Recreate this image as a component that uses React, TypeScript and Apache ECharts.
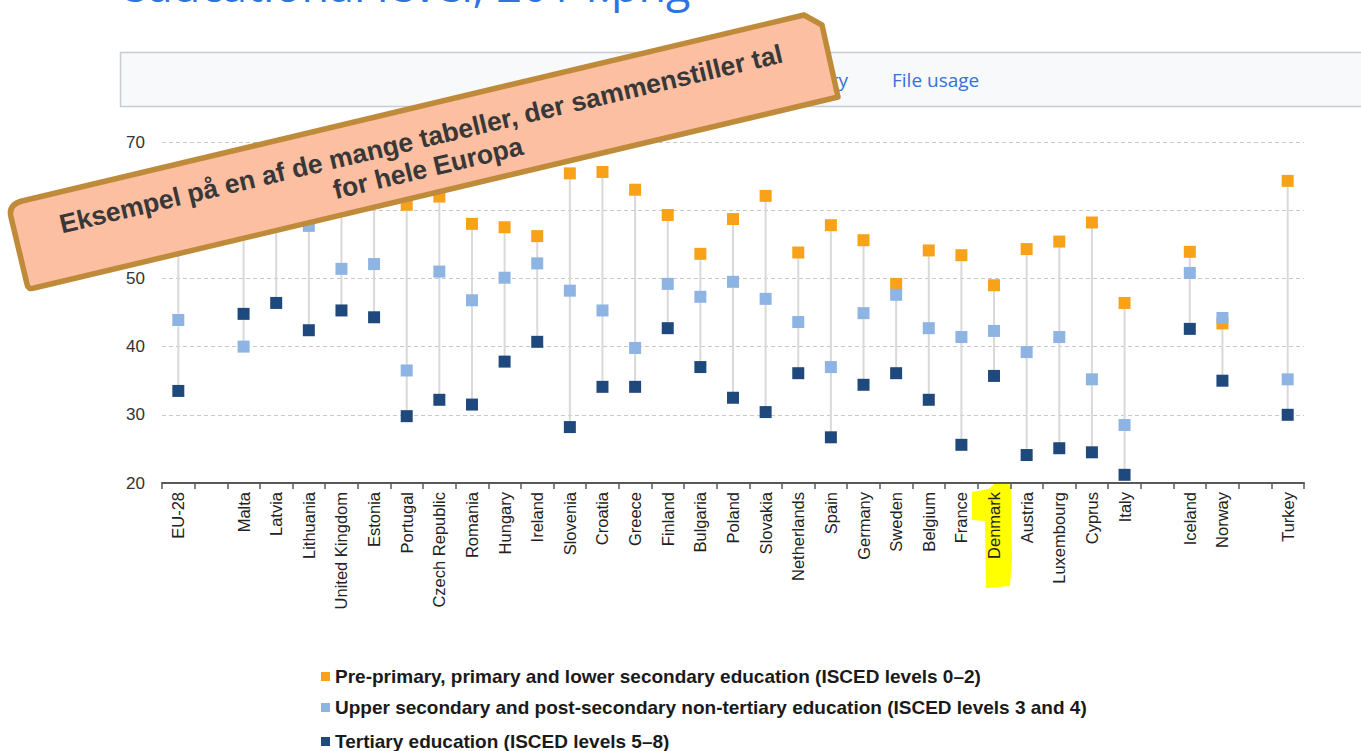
import React, { useEffect, useRef } from "react";
import * as echarts from "echarts";

const categories = [
  "EU-28", " ", "Malta", "Latvia", "Lithuania", "United Kingdom", "Estonia", "Portugal",
  "Czech Republic", "Romania", "Hungary", "Ireland", "Slovenia", "Croatia", "Greece",
  "Finland", "Bulgaria", "Poland", "Slovakia", "Netherlands", "Spain", "Germany", "Sweden",
  "Belgium", "France", "Denmark", "Austria", "Luxembourg", "Cyprus", "Italy", "  ",
  "Iceland", "Norway", "   ", "Turkey",
];

const lowerSecondary = [
  62, null, 60, 66, 65, 62, 63, 60.8, 62.0, 58.0, 57.5, 56.2, 65.4, 65.6, 63.0, 59.3, 53.6,
  58.7, 62.1, 53.8, 57.8, 55.6, 49.2, 54.1, 53.4, 49.0, 54.3, 55.4, 58.2, 46.4, null, 53.9,
  43.4, null, 64.3,
];
const upperSecondary = [
  43.9, null, 40.0, 60, 57.7, 51.4, 52.1, 36.5, 51.0, 46.8, 50.1, 52.2, 48.2, 45.3, 39.8,
  49.2, 47.3, 49.5, 47.0, 43.6, 37.0, 44.9, 47.6, 42.7, 41.4, 42.3, 39.2, 41.4, 35.2, 28.5,
  null, 50.8, 44.2, null, 35.2,
];
const tertiary = [
  33.5, null, 44.8, 46.4, 42.4, 45.3, 44.3, 29.8, 32.2, 31.5, 37.8, 40.7, 28.2, 34.1, 34.1,
  42.7, 37.0, 32.5, 30.4, 36.1, 26.7, 34.4, 36.1, 32.2, 25.6, 35.7, 24.1, 25.1, 24.5, 21.2,
  null, 42.6, 35.0, null, 30.0,
];

const seriesNames = [
  "Pre-primary, primary and lower secondary education (ISCED levels 0\u20132)",
  "Upper secondary and post-secondary non-tertiary education (ISCED levels 3 and 4)",
  "Tertiary education (ISCED levels 5\u20138)",
];
const seriesColors = ["#f8a21a", "#8db4e2", "#1f497d"];
const legendTops = [662, 693, 727];

const titleText = "educational level, 2014.png";
const tabText = "File usage";
const tabTextHidden = "File history";
const calloutLine1 = "Eksempel p\u00e5 en af de mange tabeller, der sammenstiller tal";
const calloutLine2 = "for hele Europa";

const calloutPath =
  "M 22 201 L 804 15 L 822 25 L 838 97 L 34 288 Q 28 290 27 284 L 11 217 Q 8 205 22 201 Z";

export default function App() {
  const ref = useRef<HTMLDivElement>(null);
  useEffect(() => {
    if (!ref.current) return;
    try {
      echarts.graphic.registerShape("callout", echarts.graphic.extendPath(calloutPath, {}) as any);
    } catch (e) {}
    const chart = echarts.init(ref.current, null, { renderer: "svg" });
    const rangeData: any[] = [];
    categories.forEach((c, i) => {
      const vals = [lowerSecondary[i], upperSecondary[i], tertiary[i]].filter(
        (v) => v !== null && v !== undefined
      ) as number[];
      if (vals.length) rangeData.push([i, Math.min(...vals), Math.max(...vals)]);
    });
    const scatter = (idx: number, data: (number | null)[]) => ({
      name: seriesNames[idx],
      type: "scatter",
      symbol: "rect",
      symbolSize: 12,
      itemStyle: { color: seriesColors[idx], opacity: 1 },
      data: data.map((v) => (v === null ? "-" : v)),
      z: 3,
    });
    const legends = seriesNames.map((n, i) => ({
      data: [n],
      orient: "vertical",
      left: 316,
      top: legendTops[i],
      itemWidth: 9,
      itemHeight: 9,
      itemGap: 0,
      icon: "rect",
      selectedMode: false,
      textStyle: {
        fontSize: 19,
        fontWeight: "bold",
        color: "#1a1a1a",
        fontFamily: "Liberation Sans",
      },
    }));
    const rot = 0.2333;
    chart.setOption({
      animation: false,
      backgroundColor: "#ffffff",
      grid: { left: 162, right: 57, top: 142, bottom: 268, containLabel: false },
      xAxis: {
        type: "category",
        data: categories,
        boundaryGap: true,
        axisLine: { lineStyle: { color: "#595959", width: 2 } },
        axisTick: { show: true, interval: 0, length: 6, lineStyle: { color: "#595959", width: 1.5 } },
        axisLabel: {
          interval: 0,
          rotate: 90,
          margin: 9,
          fontSize: 16.5,
          color: "#222",
          fontFamily: "Liberation Sans",
        },
        splitLine: { show: false },
      },
      yAxis: {
        type: "value",
        min: 20,
        max: 70,
        interval: 10,
        axisLine: { show: false },
        axisTick: { show: false },
        axisLabel: { fontSize: 17, color: "#333", margin: 17, fontFamily: "Liberation Sans" },
        splitLine: { lineStyle: { color: "#c8c8c8", type: [4, 3], width: 1 } },
      },
      legend: legends,
      series: [
        {
          type: "custom",
          name: "range",
          z: 1,
          encode: { x: 0, y: [1, 2] },
          data: rangeData,
          renderItem: (params: any, api: any) => {
            const p1 = api.coord([api.value(0), api.value(1)]);
            const p2 = api.coord([api.value(0), api.value(2)]);
            return {
              type: "line",
              shape: { x1: p1[0], y1: p1[1], x2: p2[0], y2: p2[1] },
              style: { stroke: "#d9d9d9", lineWidth: 2 },
            };
          },
        },
        scatter(0, lowerSecondary),
        scatter(1, upperSecondary),
        scatter(2, tertiary),
      ],
      graphic: [
        {
          type: "polygon",
          z: -1,
          shape: {
            points: [
              [972, 492], [989, 489], [994, 484], [1007, 482], [1011, 487], [1012, 560],
              [1010, 586], [986, 588], [985, 521], [972, 520],
            ],
          },
          style: { fill: "#ffff00" },
          silent: true,
        },
        {
          type: "text",
          x: 120,
          y: -16,
          z: 50,
          style: {
            text: titleText,
            font: "45px 'Open Sans'",
            fill: "#2f74de",
            align: "left",
            verticalAlign: "middle",
          },
        },
        {
          type: "rect",
          z: 50,
          shape: { x: 120.5, y: 52.5, width: 1300, height: 54 },
          style: { fill: "#f8f9fa", stroke: "#c8ccd1", lineWidth: 1.5 },
        },
        {
          type: "text",
          x: 892,
          y: 80,
          z: 51,
          style: {
            text: tabText,
            font: "19px 'Open Sans'",
            fill: "#3571d9",
            align: "left",
            verticalAlign: "middle",
          },
        },
        {
          type: "text",
          x: 848,
          y: 80,
          z: 51,
          style: {
            text: tabTextHidden,
            font: "19px 'Open Sans'",
            fill: "#3571d9",
            align: "right",
            verticalAlign: "middle",
          },
        },
        {
          type: "callout",
          z: 100,
          x: 0,
          y: 0,
          style: { fill: "#fdbfa2", stroke: "#bf8b3a", lineWidth: 5.5, lineJoin: "round" },
        },
        {
          type: "text",
          z: 101,
          x: 421,
          y: 139,
          rotation: rot,
          style: {
            text: calloutLine1,
            font: "bold 26.5px 'Liberation Sans'",
            fill: "#383838",
            align: "center",
            verticalAlign: "middle",
          },
        },
        {
          type: "text",
          z: 101,
          x: 428,
          y: 168,
          rotation: rot,
          style: {
            text: calloutLine2,
            font: "bold 26.5px 'Liberation Sans'",
            fill: "#383838",
            align: "center",
            verticalAlign: "middle",
          },
        },
      ],
    });
    return () => chart.dispose();
  }, []);
  return (
    <div
      ref={ref}
      style={{ position: "fixed", left: 0, top: 0, width: 1361, height: 751, background: "#fff" }}
    />
  );
}
